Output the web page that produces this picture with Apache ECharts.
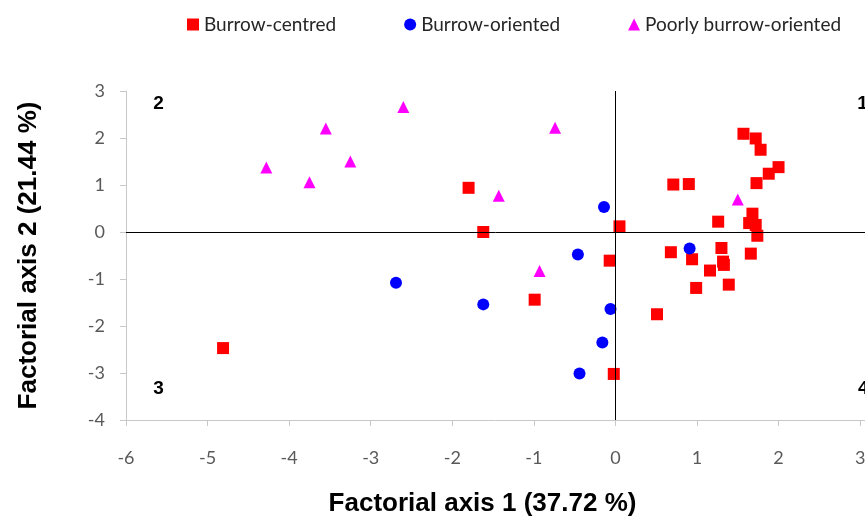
<!DOCTYPE html>
<html>
<head>
<meta charset="utf-8">
<script src="https://cdn.jsdelivr.net/npm/echarts@6/dist/echarts.min.js"></script>
<style>
  html, body { margin: 0; padding: 0; background: #fff; }
  #main { width: 865px; height: 518px; }
</style>
</head>
<body>
<div id="main"></div>
<script>
// factorial coordinates [axis1, axis2]
const burrowCentred = [
  [-1.80, 0.94], [-1.62, 0.00], [-4.81, -2.47], [0.05, 0.12], [-0.07, -0.61],
  [-0.99, -1.44], [0.51, -1.75], [-0.02, -3.02], [0.71, 1.01], [0.90, 1.02],
  [1.57, 2.09], [1.72, 1.99], [1.78, 1.75], [2.00, 1.38], [1.88, 1.24],
  [1.73, 1.04], [1.26, 0.22], [1.68, 0.39], [1.64, 0.19], [1.72, 0.15],
  [1.74, -0.08], [0.68, -0.43], [0.94, -0.58], [1.30, -0.34], [1.32, -0.63],
  [1.33, -0.70], [1.16, -0.82], [0.99, -1.19], [1.39, -1.12], [1.66, -0.46]
];
const burrowOriented = [
  [-2.69, -1.08], [-1.62, -1.54], [-0.14, 0.53], [-0.46, -0.48],
  [0.91, -0.35], [-0.06, -1.64], [-0.16, -2.35], [-0.44, -3.01]
];
const poorlyOriented = [
  [-4.28, 1.37], [-3.75, 1.06], [-3.55, 2.20], [-3.25, 1.50], [-2.60, 2.66],
  [-1.43, 0.77], [-0.74, 2.22], [-0.93, -0.83], [1.50, 0.69]
];
// quadrant numbers
const quadrants = [[3.03, 2.73, '1'], [-5.60, 2.73, '2'], [-5.60, -3.33, '3'], [3.04, -3.33, '4']];

let myChart = echarts.init(document.getElementById('main'));
let option = {
  animation: false,
  legend: {
    left: 182,
    top: 10,
    itemWidth: 12,
    itemHeight: 12,
    itemGap: 68,
    textStyle: { fontFamily: 'Lato', fontSize: 19, color: '#262626' },
    data: ['Burrow-centred', 'Burrow-oriented', 'Poorly burrow-oriented']
  },
  grid: { left: 126, right: 0, top: 91, bottom: 98, containLabel: false, outerBoundsMode: 'none' },
  xAxis: {
    type: 'value',
    min: -6,
    max: 3.06,
    interval: 1,
    splitLine: { show: false },
    axisLine: { onZero: false, lineStyle: { color: '#c8c8c8' } },
    axisTick: { lineStyle: { color: '#c8c8c8' }, length: 6 },
    axisLabel: {
      margin: 29,
      fontFamily: 'Lato', fontSize: 18, color: '#595959',
      formatter: function (v) { return Number.isInteger(v) ? String(v) : ''; }
    },
    name: 'Factorial axis 1 (37.72 %)',
    nameLocation: 'middle',
    nameGap: 71,
    nameTextStyle: { fontFamily: 'Liberation Sans', fontWeight: 'bold', fontSize: 26, color: '#000', padding: [0, 26, 0, 0] }
  },
  yAxis: {
    type: 'value',
    min: -4,
    max: 3,
    interval: 1,
    splitLine: { show: false },
    axisLine: { show: true, onZero: false, lineStyle: { color: '#c8c8c8' } },
    axisTick: { show: true, lineStyle: { color: '#c8c8c8' }, length: 6 },
    axisLabel: { margin: 21, fontFamily: 'Lato', fontSize: 18, color: '#595959' },
    name: 'Factorial axis 2 (21.44 %)',
    nameLocation: 'middle',
    nameGap: 84,
    nameTextStyle: { fontFamily: 'Liberation Sans', fontWeight: 'bold', fontSize: 26, color: '#000' }
  },
  series: [
    {
      name: 'Burrow-centred',
      type: 'scatter',
      symbol: 'rect',
      symbolSize: 12,
      itemStyle: { color: '#ff0000', opacity: 1 },
      data: burrowCentred,
      z: 3,
      markLine: {
        silent: true,
        symbol: 'none',
        label: { show: false },
        lineStyle: { color: '#000', width: 1, type: 'solid' },
        data: [{ xAxis: 0 }, { yAxis: 0 }]
      }
    },
    {
      name: 'Burrow-oriented',
      type: 'scatter',
      symbol: 'circle',
      symbolSize: 12,
      itemStyle: { color: '#0000ff', opacity: 1 },
      data: burrowOriented,
      z: 3
    },
    {
      name: 'Poorly burrow-oriented',
      type: 'scatter',
      symbol: 'triangle',
      symbolSize: 12,
      itemStyle: { color: '#ff00ff', opacity: 1 },
      data: poorlyOriented,
      z: 3
    },
    {
      type: 'scatter',
      symbolSize: 1,
      silent: true,
      itemStyle: { color: 'transparent', opacity: 1 },
      data: quadrants,
      label: {
        show: true,
        position: 'inside',
        formatter: function (p) { return p.data[2]; },
        fontFamily: 'Liberation Sans', fontWeight: 'bold', fontSize: 19,
        color: '#000', opacity: 1, textBorderWidth: 0
      }
    }
  ]
};
myChart.setOption(option);
</script>
</body>
</html>
